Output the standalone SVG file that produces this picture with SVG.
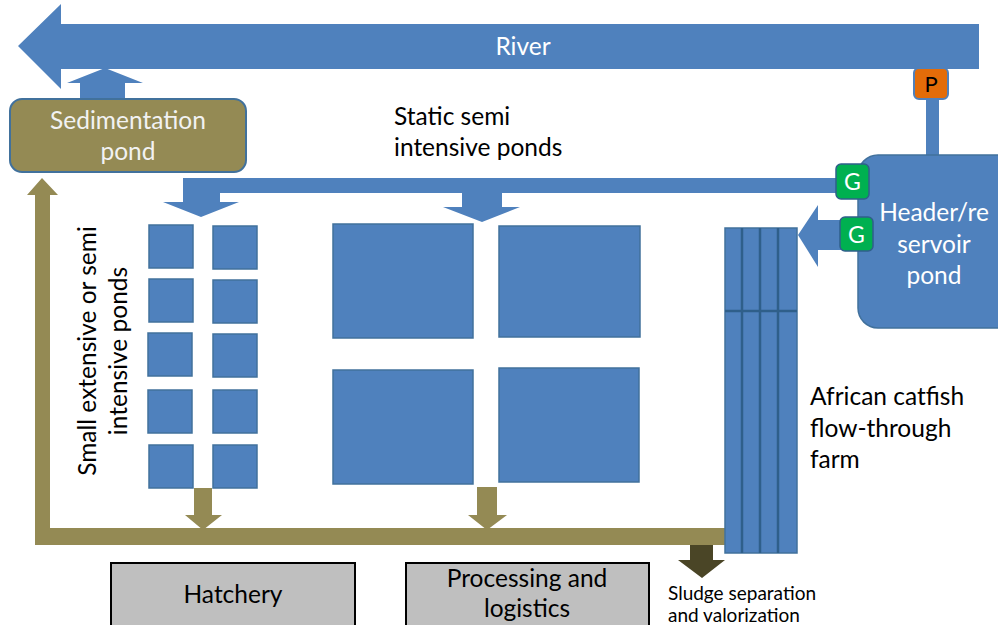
<svg xmlns="http://www.w3.org/2000/svg" width="998" height="625" viewBox="0 0 998 625">
<style>
text{font-family:Lato,"Open Sans","Liberation Sans",sans-serif}
.blue{fill:#4F81BD}
.pond{fill:#4F81BD;stroke:#41719C;stroke-width:1.5}
.olive{fill:#948A54}
.dark{fill:#4A4526}
.box{fill:#BFBFBF;stroke:#000;stroke-width:2}
.lbl{font-size:24.5px;fill:#000}
.wht{font-size:24.5px;fill:#F2F2F2;text-anchor:middle}
.gate{fill:#00B050;stroke:#2F5F8A;stroke-width:1.5}
.gt{font-size:23px;fill:#fff;text-anchor:middle}
</style>
<rect width="998" height="625" fill="#fff"/>
<g id="connectors">
  <polygon class="blue" points="979,24 979,69 61,69 61,89 18,46 61,4 61,24"/>
  <polygon class="blue" points="80,100 80,83 67,83 105,68 143,83 125,83 125,100"/>
  <rect class="blue" x="926" y="98" width="13" height="60"/>
  <polygon class="blue" points="840,178 840,193 220,193 220,202 239,202 201,217 163,202 183,202 183,178"/>
  <polygon class="blue" points="462,193 462,207 443,207 482,222 520,207 502,207 502,193"/>
  <polygon class="blue" points="862,220 862,250 818,250 818,267 798,235 818,205 818,220"/>
  <polygon class="olive" points="35,545 35,195 27,195 42,178 58,195 50,195 50,528 726,528 726,545"/>
  <polygon class="olive" points="194,488 212,488 212,515 222,515 203,530 185,515 194,515"/>
  <polygon class="olive" points="477,487 497,487 497,515 507,515 487,530 468,515 477,515"/>
  <polygon class="dark" points="690,545 713,545 713,560 725,560 702,578 678,560 690,560"/>
</g>
<g id="river"><text x="523" y="55" class="wht" style="fill:#fff">River</text></g>
<g id="sedimentation">
  <rect x="10" y="99" width="236" height="73" rx="12" fill="#948A54" stroke="#41719C" stroke-width="2"/>
  <text x="128" y="129" class="wht">Sedimentation</text>
  <text x="128" y="160" class="wht">pond</text>
</g>
<g id="pump">
  <rect x="914" y="68" width="34" height="31" rx="5" fill="#E36C09" stroke="#4F81BD" stroke-width="2"/>
  <text x="931" y="92" font-size="22" text-anchor="middle" fill="#000">P</text>
</g>
<g id="header">
  <rect x="858" y="155" width="160" height="173" rx="20" class="pond"/>
  <text x="934" y="221" class="wht" style="fill:#fff">Header/re</text>
  <text x="934" y="253" class="wht" style="fill:#fff">servoir</text>
  <text x="934" y="284" class="wht" style="fill:#fff">pond</text>
</g>
<g id="gate1">
  <rect x="836" y="164" width="33" height="35" rx="5" class="gate"/>
  <text x="852.5" y="190" class="gt">G</text>
</g>
<g id="gate2">
  <rect x="840" y="217" width="33" height="34" rx="5" class="gate"/>
  <text x="856.5" y="243" class="gt">G</text>
</g>
<g id="static-label">
  <text x="394" y="125" class="lbl">Static semi</text>
  <text x="394" y="156" class="lbl">intensive ponds</text>
</g>
<g id="small-ponds">
  <rect x="149" y="225" width="44" height="43" class="pond"/>
  <rect x="213" y="226" width="44" height="43" class="pond"/>
  <rect x="149" y="279" width="44" height="43" class="pond"/>
  <rect x="213" y="280" width="44" height="43" class="pond"/>
  <rect x="148" y="333" width="44" height="43" class="pond"/>
  <rect x="213" y="334" width="44" height="43" class="pond"/>
  <rect x="148" y="390" width="44" height="43" class="pond"/>
  <rect x="213" y="390" width="44" height="43" class="pond"/>
  <rect x="149" y="445" width="44" height="43" class="pond"/>
  <rect x="213" y="445" width="44" height="43" class="pond"/>
</g>
<g id="small-label">
  <text transform="translate(96,351) rotate(-90)" class="lbl" text-anchor="middle">Small extensive or semi</text>
  <text transform="translate(127,351) rotate(-90)" class="lbl" text-anchor="middle">intensive ponds</text>
</g>
<g id="static-ponds">
  <rect x="333" y="224" width="140" height="114" class="pond"/>
  <rect x="499" y="226" width="141" height="111" class="pond"/>
  <rect x="333" y="370" width="140" height="114" class="pond"/>
  <rect x="499" y="368" width="140" height="114" class="pond"/>
</g>
<g id="catfish-farm">
  <rect x="725" y="228" width="72" height="325" class="pond"/>
  <path d="M742,228V553M760,228V553M778,228V553M725,311H797" stroke="#2F5F8A" stroke-width="2.5" fill="none"/>
  <text x="810" y="405" class="lbl">African catfish</text>
  <text x="810" y="437" class="lbl">flow-through</text>
  <text x="810" y="468" class="lbl">farm</text>
</g>
<g id="hatchery">
  <rect x="111" y="563" width="244" height="70" class="box"/>
  <text x="233" y="603" class="lbl" text-anchor="middle">Hatchery</text>
</g>
<g id="processing">
  <rect x="406" y="563" width="243" height="70" class="box"/>
  <text x="527" y="587" class="lbl" text-anchor="middle">Processing and</text>
  <text x="527" y="617" class="lbl" text-anchor="middle">logistics</text>
</g>
<g id="sludge">
  <text x="668" y="600" font-size="19" fill="#000">Sludge separation</text>
  <text x="668" y="622" font-size="19" fill="#000">and valorization</text>
</g>
</svg>
